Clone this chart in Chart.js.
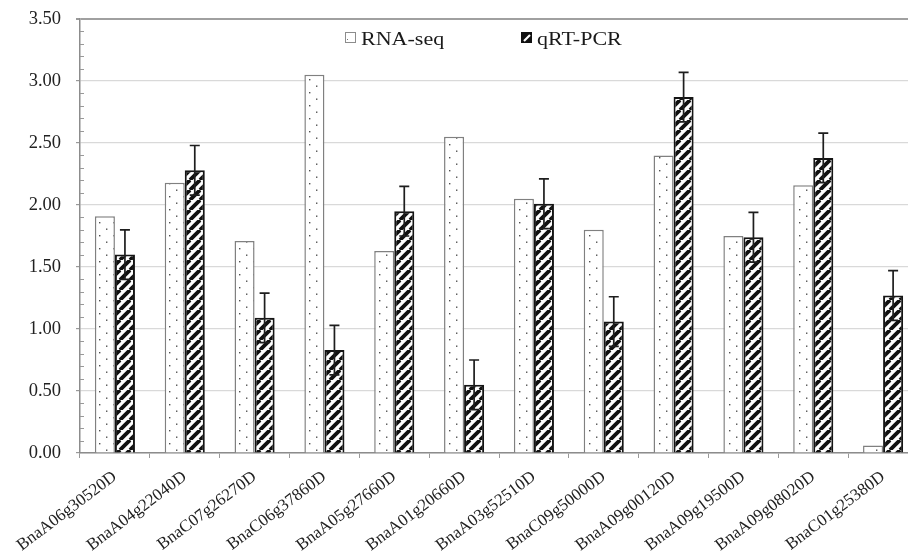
<!DOCTYPE html>
<html><head><meta charset="utf-8">
<script src="https://cdn.jsdelivr.net/npm/chart.js@4.4.0/dist/chart.umd.min.js"></script>
<style>html,body{margin:0;padding:0;background:#fff;overflow:hidden}
#wrap{width:908px;height:554px;overflow:hidden;position:relative;background:#fff}
canvas{display:block}</style></head>
<body><div id="wrap"><canvas id="c" width="930" height="554" style="width:930px;height:554px"></canvas></div>
<script>
const categories = ['BnaA06g30520D','BnaA04g22040D','BnaC07g26270D','BnaC06g37860D','BnaA05g27660D','BnaA01g20660D','BnaA03g52510D','BnaC09g50000D','BnaA09g00120D','BnaA09g19500D','BnaA09g08020D','BnaC01g25380D'];
const seriesNames = ['RNA-seq','qRT-PCR'];
const rnaSeq = [1.91,2.18,1.71,3.05,1.63,2.55,2.05,1.80,2.40,1.75,2.16,0.06];
const qrtPcr = [1.60,2.28,1.09,0.83,1.95,0.55,2.01,1.06,2.87,1.74,2.38,1.27];
const qrtErr = [0.20,0.20,0.20,0.20,0.20,0.20,0.20,0.20,0.20,0.20,0.20,0.20];
const yMin = 0, yMax = 3.5, yStep = 0.5, yMinorStep = 0.1;

const cv = document.getElementById('c');
const ctx = cv.getContext('2d');

function dotPattern(){
  const c = document.createElement('canvas'); c.width = 14; c.height = 13;
  const x = c.getContext('2d');
  x.fillStyle = '#fff'; x.fillRect(0,0,14,13);
  x.fillStyle = '#505050'; x.fillRect(1,1,1.4,1.4); x.fillRect(8,7.5,1.4,1.4);
  return ctx.createPattern(c,'repeat');
}
function stripePattern(){
  const s = 10;
  const c = document.createElement('canvas'); c.width = s; c.height = s;
  const x = c.getContext('2d');
  x.fillStyle = '#fff'; x.fillRect(0,0,s,s);
  x.strokeStyle = '#111'; x.lineWidth = 3.8;
  for (const k of [-1,0,1]) { x.beginPath(); x.moveTo(k*s, s); x.lineTo(k*s+s, 0); x.stroke(); }
  return ctx.createPattern(c,'repeat');
}
const SERIF = "'Liberation Serif','Times New Roman',serif";

const errorBars = {
  id:'errorBars',
  afterDatasetsDraw(chart){
    const meta = chart.getDatasetMeta(1);
    const ys = chart.scales.y;
    const c = chart.ctx;
    c.save();
    c.strokeStyle = '#1e1e1e'; c.lineWidth = 1.7;
    meta.data.forEach((el,i)=>{
      const v = qrtPcr[i], e = qrtErr[i];
      const x = el.x;
      const yt = ys.getPixelForValue(v+e), yb = ys.getPixelForValue(v-e);
      c.beginPath();
      c.moveTo(x, yt); c.lineTo(x, yb);
      c.moveTo(x-5, yt); c.lineTo(x+5, yt);
      c.moveTo(x-5, yb); c.lineTo(x+5, yb);
      c.stroke();
    });
    c.restore();
  }
};
const minorTicks = {
  id:'minorTicks',
  afterDraw(chart){
    const ys = chart.scales.y, c = chart.ctx, left = chart.chartArea.left;
    c.save(); c.strokeStyle = '#999'; c.lineWidth = 1;
    const n = Math.round((yMax-yMin)/yMinorStep);
    for (let i=1;i<n;i++){
      if (i % 5 === 0) continue;
      const y = Math.round(ys.getPixelForValue(yMin + i*yMinorStep)) + 0.5;
      c.beginPath(); c.moveTo(left, y); c.lineTo(left+4, y); c.stroke();
    }
    c.restore();
  }
};
const legendPlugin = {
  id:'customLegend',
  afterDraw(chart){
    const c = chart.ctx;
    const items = [
      {x:345, label: seriesNames[0], kind:0},
      {x:521, label: seriesNames[1], kind:1}
    ];
    const y = 32, s = 11;
    c.save();
    items.forEach(it=>{
      if (it.kind===0){
        c.fillStyle = '#fff'; c.fillRect(it.x, y, s, s);
        c.fillStyle = '#777'; c.fillRect(it.x+2, y+7, 1, 1);
        c.strokeStyle = '#8c8c8c'; c.lineWidth = 1; c.strokeRect(it.x+0.5, y+0.5, s-1, s-1);
      } else {
        c.fillStyle = '#111'; c.fillRect(it.x, y, s, s);
        c.strokeStyle = '#fff'; c.lineWidth = 2.2;
        c.beginPath(); c.moveTo(it.x+3, y+s-2); c.lineTo(it.x+s-2, y+3); c.stroke();
      }
      c.fillStyle = '#1a1a1a';
      c.font = "19.5px " + SERIF;
      c.textBaseline = 'alphabetic'; c.textAlign = 'left';
      c.translate(it.x + s + 5, y + 13);
      c.scale(1.13, 1);
      c.fillText(it.label, 0, 0);
      c.setTransform(1,0,0,1,0,0);
    });
    c.restore();
  }
};

new Chart(cv, {
  type:'bar',
  data:{
    labels: categories,
    datasets:[
      {label: seriesNames[0], data: rnaSeq, backgroundColor: dotPattern(), borderColor:'#808080', borderWidth:1.5,
       categoryPercentage:0.574, barPercentage:1.0},
      {label: seriesNames[1], data: qrtPcr, backgroundColor: stripePattern(), borderColor:'#151515', borderWidth:2,
       categoryPercentage:0.574, barPercentage:1.0}
    ]
  },
  options:{
    responsive:false, animation:false,
    layout:{padding:{left:0, top:19, right:12, bottom:0}},
    plugins:{legend:{display:false}, tooltip:{enabled:false}},
    scales:{
      x:{
        grid:{drawOnChartArea:false, drawTicks:true, tickLength:5, color:'#999', offset:true},
        border:{color:'#8c8c8c', width:1.5},
        ticks:{font:{family:SERIF, size:17}, color:'#222', minRotation:37, maxRotation:37, autoSkip:false, padding:9},
        afterFit(s){ s.height = 101; s.paddingLeft = 0; s.paddingRight = 0; }
      },
      y:{
        min:yMin, max:yMax,
        ticks:{stepSize:yStep, callback:v=>Number(v).toFixed(2), font:{family:SERIF, size:18.5}, color:'#222', padding:15},
        grid:{color:c=>c.tick && c.tick.value===yMax ? '#a0a0a0' : '#d9d9d9', lineWidth:c=>c.tick && c.tick.value===yMax ? 2 : 1.2, tickLength:4, tickColor:'#999'},
        border:{color:'#8c8c8c', width:1.5},
        afterFit(s){ s.width = 80; s.paddingTop = 0; s.paddingBottom = 0; }
      }
    }
  },
  plugins:[minorTicks, errorBars, legendPlugin]
});
</script></body></html>
